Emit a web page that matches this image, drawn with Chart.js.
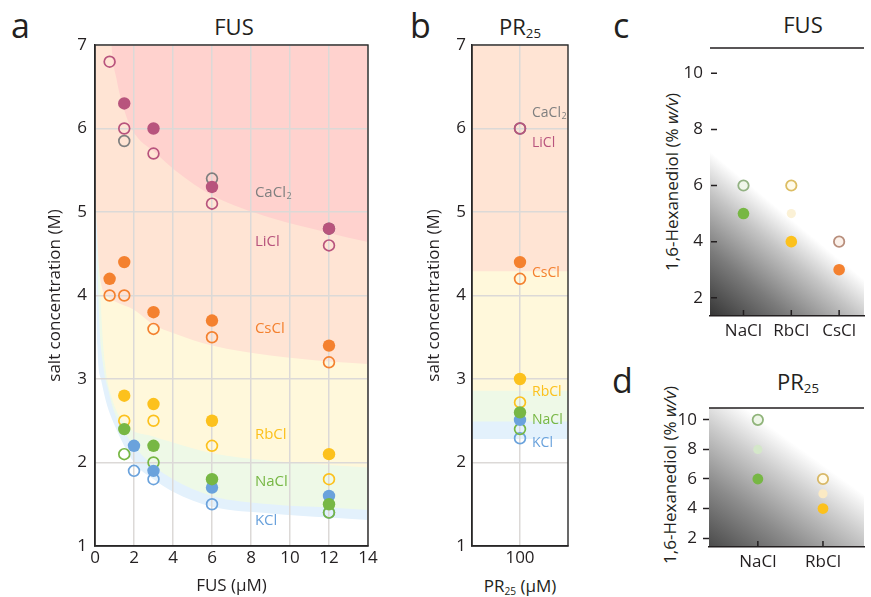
<!DOCTYPE html>
<html><head><meta charset="utf-8">
<script src="https://cdn.jsdelivr.net/npm/chart.js@4.4.0/dist/chart.umd.min.js"></script>
<style>
body{margin:0;background:#fff;width:871px;height:597px;overflow:hidden;position:relative;font-family:'Open Sans',sans-serif;color:#231f20}
canvas{position:absolute}
.t{position:absolute;white-space:nowrap;line-height:1}
.c{transform:translateX(-50%)}
.rot{transform:translate(-50%,-50%) rotate(-90deg);line-height:1.2}
.pl{font-size:34px}
.ti{font-size:22px}
sub{font-size:60%;vertical-align:-0.25em;line-height:0}
</style></head><body>
<div class="t pl" style="left:11px;top:8px">a</div>
<div class="t pl" style="left:410px;top:8px">b</div>
<div class="t pl" style="left:613px;top:8px">c</div>
<div class="t pl" style="left:612px;top:363px">d</div>
<div class="t ti c" style="left:234px;top:15px">FUS</div>
<div class="t ti c" style="left:520px;top:15px">PR<sub>25</sub></div>
<div class="t ti c" style="left:803px;top:13px">FUS</div>
<div class="t ti c" style="left:798px;top:370px">PR<sub>25</sub></div>
<div class="t c" style="left:520px;top:577px;font-size:17px">PR<sub>25</sub> (µM)</div>
<div class="t rot" style="left:672px;top:182px;font-size:17px">1,6-Hexanediol (% <i>w/v</i>)</div>
<div class="t rot" style="left:670px;top:475px;font-size:17px">1,6-Hexanediol (% <i>w/v</i>)</div>

<canvas id="ca" style="left:0;top:0" width="380" height="597"></canvas>
<canvas id="cb" style="left:380px;top:0" width="200" height="597"></canvas>
<canvas id="cc" style="left:620px;top:0" width="251" height="360"></canvas>
<canvas id="cd" style="left:620px;top:360px" width="251" height="237"></canvas>
<script>
// ---------- DATA ----------
// Panel a: FUS concentration (µM) vs salt concentration (M)
const LiCl_filled_x = [1.5, 3, 6, 12];
const LiCl_filled_y = [6.3, 6.0, 5.3, 4.8];
const LiCl_open_x = [0.75, 1.5, 3, 6, 12];
const LiCl_open_y = [6.8, 6.0, 5.7, 5.1, 4.6];
const CaCl2_open_x = [1.5, 6, 12];
const CaCl2_open_y = [5.85, 5.4, 4.8];
const CsCl_filled_x = [0.75, 1.5, 3, 6, 12];
const CsCl_filled_y = [4.2, 4.4, 3.8, 3.7, 3.4];
const CsCl_open_x = [0.75, 1.5, 3, 6, 12];
const CsCl_open_y = [4.0, 4.0, 3.6, 3.5, 3.2];
const RbCl_filled_x = [1.5, 3, 6, 12];
const RbCl_filled_y = [2.8, 2.7, 2.5, 2.1];
const RbCl_open_x = [1.5, 3, 6, 12];
const RbCl_open_y = [2.5, 2.5, 2.2, 1.8];
const NaCl_filled_x = [1.5, 3, 6, 12];
const NaCl_filled_y = [2.4, 2.2, 1.8, 1.5];
const NaCl_open_x = [1.5, 3, 12];
const NaCl_open_y = [2.1, 2.0, 1.4];
const KCl_filled_x = [2, 3, 6, 12];
const KCl_filled_y = [2.2, 1.9, 1.7, 1.6];
const KCl_open_x = [2, 3, 6, 12];
const KCl_open_y = [1.9, 1.8, 1.5, 1.4];

// Panel a: phase-region boundaries [x, y]
const boundLiCl = [[0.8,7.3],[0.85,7],[1.1,6.6],[1.4,6.3],[1.87,6.0],[3.15,5.7],[4.1,5.5],[6,5.2],[9,4.93],[12,4.75],[14,4.64]];
const boundCsCl = [[0,5.4],[0.1,4.8],[0.2,4.35],[0.35,4.1],[0.6,4.0],[1.0,3.93],[2.0,3.83],[3,3.65],[4,3.55],[6,3.4],[9,3.28],[12,3.21],[14,3.18]];
const boundRbCl = [[0,6.5],[0.15,5],[0.25,4.2],[0.34,3.7],[0.5,3.2],[0.83,2.8],[1.5,2.47],[3,2.31],[4,2.24],[6,2.11],[9,2.02],[12,1.97],[14,1.94]];
const boundNaCl = [[0,6.5],[0.1,4.8],[0.2,3.8],[0.4,3.2],[0.7,2.85],[1.0,2.6],[2.0,2.2],[3,1.96],[4,1.8],[6,1.6],[9,1.5],[12,1.46],[14,1.43]];
const boundKCl  = [[0,6.5],[0.06,4.5],[0.12,3.4],[0.3,3.0],[0.6,2.7],[1.0,2.45],[2.0,2.0],[3,1.8],[4,1.65],[6,1.47],[9,1.39],[12,1.34],[14,1.31]];

const saltNames = ['CaCl2', 'LiCl', 'CsCl', 'RbCl', 'NaCl', 'KCl'];
const labelA_x = 8.2;
const labelA_y = [5.23, 4.64, 3.6, 2.33, 1.77, 1.30];

// Panel b: PR25 at 100 µM
const prConc = ['100'];
const prX = 1;
const prLiCl_open = 6.0, prCaCl2_open = 6.0;
const prCsCl_filled = 4.4, prCsCl_open = 4.2;
const prRbCl_filled = 3.0, prRbCl_open = 2.72;
const prNaCl_filled = 2.6, prNaCl_open = 2.4;
const prKCl_filled = 2.51, prKCl_open = 2.29;
const bandB_low = [4.29, 2.86, 2.49, 2.28]; // CsCl, RbCl, NaCl, KCl region lower edges
const labelB_x = 1.25;
const labelB_y = [6.19, 5.83, 4.27, 2.85, 2.51, 2.23];

// Panel c: FUS, 1,6-hexanediol
const saltsC = ['NaCl', 'RbCl', 'CsCl'];
const c_open_y = [6, 6, 4];
const c_faded_x = [2], c_faded_y = [5];
const c_filled_y = [5, 4, 3];
const c_ticksY = [2, 4, 6, 8, 10];

// Panel d: PR25, 1,6-hexanediol
const saltsD = ['NaCl', 'RbCl'];
const d_open_y = [10, 6];
const d_faded_y = [8, 5];
const d_filled_y = [6, 4];
const d_ticksY = [2, 4, 6, 8, 10];

// ---------- STYLE ----------
const INK = '#231f20';
Chart.defaults.font.family = "'Open Sans', sans-serif";
Chart.defaults.color = INK;
const COL = {LiCl:'#b8547d', CaCl2:'#7f7f7f', CsCl:'#f4812f', RbCl:'#fcc11d', NaCl:'#77b744', KCl:'#6aa2dc'};
const REG = {LiCl:'#ffd2ce', CsCl:'#ffe4d4', RbCl:'#fff8db', NaCl:'#eef9e7', KCl:'#e3f1fc'};
const tickFont = {size:17};

function pts(xs, ys, color, filled, r) {
  return {data: xs.map((x,i)=>({x, y: ys[i]})), showLine:false,
    pointRadius: r || (filled ? 6.2 : 5.4), pointHoverRadius: r || (filled ? 6.2 : 5.4),
    pointBackgroundColor: filled ? color : 'rgba(0,0,0,0)', pointBorderColor: color,
    pointBorderWidth: filled ? 0 : 1.7, borderWidth:0};
}
function region(b, color) {
  return {data: b.map(([x,y])=>({x,y})), fill:'end', backgroundColor: color, borderWidth:0,
    borderColor:'rgba(0,0,0,0)', pointRadius:0, pointHoverRadius:0, cubicInterpolationMode:'monotone'};
}
const boxPlugin = {id:'box', beforeDatasetsDraw(chart){
  const {ctx, chartArea:a} = chart; ctx.save(); ctx.strokeStyle = '#2a2a2a'; ctx.lineWidth = 1.4;
  ctx.strokeRect(a.left, a.top, a.right-a.left, a.bottom-a.top); ctx.restore(); }};
function labelPlugin(xv, yv, size) {
  return {id:'lbl', afterDatasetsDraw(chart){
    const {ctx, scales:{x, y}} = chart; ctx.save(); ctx.textBaseline = 'middle';
    saltNames.forEach((n,i)=>{
      const m = n.match(/^(.*?)(\d*)$/);
      const px = x.getPixelForValue(xv), py = y.getPixelForValue(yv[i]);
      ctx.fillStyle = COL[n]; ctx.font = size + "px 'Open Sans'"; ctx.fillText(m[1], px, py);
      if (m[2]) { const w = ctx.measureText(m[1]).width; ctx.font = Math.round(size*0.62) + "px 'Open Sans'"; ctx.fillText(m[2], px + w + 0.5, py + 4); }
    });
    ctx.restore(); }};
}
const common = {responsive:false, animation:false, events:[],
  plugins:{legend:{display:false}, tooltip:{enabled:false}, filler:{drawTime:'beforeDraw'}}};

// ---------- PANEL A ----------
new Chart(document.getElementById('ca'), {
  type:'line',
  data:{datasets:[
    region(boundLiCl, REG.LiCl), region(boundCsCl, REG.CsCl), region(boundRbCl, REG.RbCl),
    region(boundNaCl, REG.NaCl), region(boundKCl, REG.KCl),
    pts(NaCl_filled_x, NaCl_filled_y, COL.NaCl, true),
    pts(KCl_filled_x, KCl_filled_y, COL.KCl, true),
    pts(RbCl_filled_x, RbCl_filled_y, COL.RbCl, true),
    pts(CsCl_filled_x, CsCl_filled_y, COL.CsCl, true),
    pts(LiCl_filled_x, LiCl_filled_y, COL.LiCl, true),
    pts(NaCl_open_x, NaCl_open_y, COL.NaCl, false),
    pts(KCl_open_x, KCl_open_y, COL.KCl, false),
    pts(RbCl_open_x, RbCl_open_y, COL.RbCl, false),
    pts(CsCl_open_x, CsCl_open_y, COL.CsCl, false),
    pts(LiCl_open_x, LiCl_open_y, COL.LiCl, false),
    pts(CaCl2_open_x, CaCl2_open_y, COL.CaCl2, false),
  ]},
  options:{...common,
    layout:{padding:{left:0, top:45, right:12, bottom:0}},
    scales:{
      x:{type:'linear', min:0, max:14, ticks:{stepSize:2, padding:2, font:tickFont, color:INK},
         grid:{color:'#dcd9d7', lineWidth:1.5, drawTicks:false}, border:{color:INK, width:1.4},
         title:{display:true, text:'FUS (µM)', font:{size:17}, color:INK, padding:{top:0, bottom:1}},
         afterFit(s){ s.height = 51; }},
      y:{type:'linear', min:1, max:7, ticks:{stepSize:1, padding:8, font:tickFont, color:INK},
         grid:{color:'#dcd9d7', lineWidth:1.5, drawTicks:false}, border:{color:INK, width:1.4},
         title:{display:true, text:'salt concentration (M)', font:{size:17}, color:INK, padding:{top:45}},
         afterFit(s){ s.width = 95; }}
    }},
  plugins:[boxPlugin, labelPlugin(labelA_x, labelA_y, 15)]
});

// ---------- PANEL B ----------
function band(low, color){ return region([[0, low],[2, low]], color); }
const P = (v, c, f) => pts([prX], [v], c, f);
new Chart(document.getElementById('cb'), {
  type:'line',
  data:{datasets:[
    band(bandB_low[0], REG.CsCl), band(bandB_low[1], REG.RbCl), band(bandB_low[2], REG.NaCl), band(bandB_low[3], REG.KCl),
    P(prNaCl_filled, COL.NaCl, true), P(prKCl_filled, COL.KCl, true), P(prRbCl_filled, COL.RbCl, true), P(prCsCl_filled, COL.CsCl, true),
    P(prNaCl_open, COL.NaCl, false), P(prKCl_open, COL.KCl, false), P(prRbCl_open, COL.RbCl, false), P(prCsCl_open, COL.CsCl, false),
    P(prLiCl_open, COL.LiCl, false), P(prCaCl2_open, COL.CaCl2, false),
  ]},
  options:{...common,
    layout:{padding:{left:0, top:45, right:12, bottom:0}},
    scales:{
      x:{type:'linear', min:0, max:2, afterBuildTicks(s){ s.ticks = [{value:prX}]; },
         ticks:{padding:2, font:tickFont, color:INK, callback:()=>prConc[0]},
         grid:{color:'#dcd9d7', lineWidth:1.5, drawTicks:false}, border:{color:INK, width:1.4},
         afterFit(s){ s.height = 51; }},
      y:{type:'linear', min:1, max:7, ticks:{stepSize:1, padding:6, font:tickFont, color:INK},
         grid:{color:'#dcd9d7', lineWidth:1.5, drawTicks:false}, border:{color:INK, width:1.4},
         title:{display:true, text:'salt concentration (M)', font:{size:17}, color:INK, padding:{top:44}},
         afterFit(s){ s.width = 92; }}
    }},
  plugins:[boxPlugin, labelPlugin(labelB_x, labelB_y, 14)]
});

// ---------- PANELS C, D ----------
function gradPlugin(fx, fy, stops){
  return {id:'grad', beforeDraw(chart){
    const {ctx, chartArea:a} = chart; const W = a.right-a.left, H = a.bottom-a.top;
    const g = ctx.createLinearGradient(a.left, a.bottom, a.left + fx*W, a.bottom - fy*H);
    stops.forEach(([o,c])=>g.addColorStop(o,c));
    ctx.save(); ctx.fillStyle = g; ctx.fillRect(a.left, a.top, W, H); ctx.restore(); }};
}
function framePlugin(innerY){
  return {id:'frame', afterDatasetsDraw(chart){
    const {ctx, chartArea:a, scales:{x, y}} = chart; ctx.save(); ctx.strokeStyle = INK; ctx.lineWidth = 1.5;
    ctx.beginPath(); ctx.moveTo(a.left, a.top); ctx.lineTo(a.right, a.top);
    x.ticks.forEach(t=>{ const px = x.getPixelForValue(t.value); ctx.moveTo(px, a.bottom); ctx.lineTo(px, a.bottom-6); });
    if (innerY) y.ticks.forEach(t=>{ const py = y.getPixelForValue(t.value); ctx.moveTo(a.left+1, py); ctx.lineTo(a.left+7, py); });
    ctx.stroke(); ctx.restore(); }};
}
function ptsCat(ys, colors, fills, r, bw){
  return {data: ys.map((y,i)=>({x:i+1, y})), showLine:false, pointRadius:r, pointHoverRadius:r,
    pointBackgroundColor: fills, pointBorderColor: colors, pointBorderWidth: bw, borderWidth:0};
}
function hexScales(xmin, xmax, ymin, ymax, cats, yt, innerY, xpad, sizes, ypad){
  return {
    x:{type:'linear', min:xmin, max:xmax, afterBuildTicks(s){ s.ticks = cats.map((_,i)=>({value:i+1})); },
       ticks:{padding:xpad, font:tickFont, color:INK, callback:(v,i)=>cats[i]},
       grid:{display:false, drawTicks:false}, border:{color:INK, width:1.5}, afterFit(s){ s.height = sizes[0]; }},
    y:{type:'linear', min:ymin, max:ymax, afterBuildTicks(s){ s.ticks = yt.map(v=>({value:v})); },
       ticks:{padding:ypad, font:tickFont, color:INK},
       grid:{drawOnChartArea:false, drawTicks:!innerY, tickLength:6, tickColor:INK, tickWidth:1.5},
       border:{display:false}, afterFit(s){ s.width = sizes[1]; }}
  };
}
new Chart(document.getElementById('cc'), {
  type:'line',
  data:{datasets:[
    ptsCat(c_filled_y, [COL.NaCl, COL.RbCl, COL.CsCl], [COL.NaCl, COL.RbCl, COL.CsCl], 5.8, 0),
    {data: c_faded_x.map((x,i)=>({x, y:c_faded_y[i]})), showLine:false, pointRadius:4.6, pointBackgroundColor:'#fbf1d6', pointBorderWidth:0, borderWidth:0},
    ptsCat(c_open_y, ['#93b283', '#dcbd63', '#b88e7c'], ['#f1f7ec', '#fffbea', '#fbf1ea'], 5.2, 1.8),
  ]},
  options:{...common, layout:{padding:{left:0, top:48, right:0, bottom:0}},
    scales: hexScales(0.3, 3.52, 1.35, 10.9, saltsC, c_ticksY, true, 5, [44, 90], 7)},
  plugins:[gradPlugin(0.525, 0.363, [[0,'#353535'],[0.4,'#7b7b7b'],[0.75,'#c4c4c4'],[1,'#ffffff']]), framePlugin(true)]
});
new Chart(document.getElementById('cd'), {
  type:'line',
  data:{datasets:[
    ptsCat(d_filled_y, [COL.NaCl, COL.RbCl], [COL.NaCl, COL.RbCl], 5.4, 0),
    ptsCat(d_faded_y, ['#d4e7c9', '#fbeac4'], ['#d4e7c9', '#fbeac4'], 4.6, 0),
    ptsCat(d_open_y, ['#90b47a', '#d8b866'], ['#eef6e8', '#fffae9'], 5.2, 1.8),
  ]},
  options:{...common, layout:{padding:{left:0, top:48, right:0, bottom:0}},
    scales: hexScales(0.25, 2.63, 1.4, 10.8, saltsD, d_ticksY, false, 5, [50, 89], 6)},
  plugins:[gradPlugin(0.506, 0.777, [[0,'#4a4a4a'],[0.4,'#8c8c8c'],[0.75,'#cdcdcd'],[1,'#ffffff']]), framePlugin(false)]
});
</script>
</body></html>
